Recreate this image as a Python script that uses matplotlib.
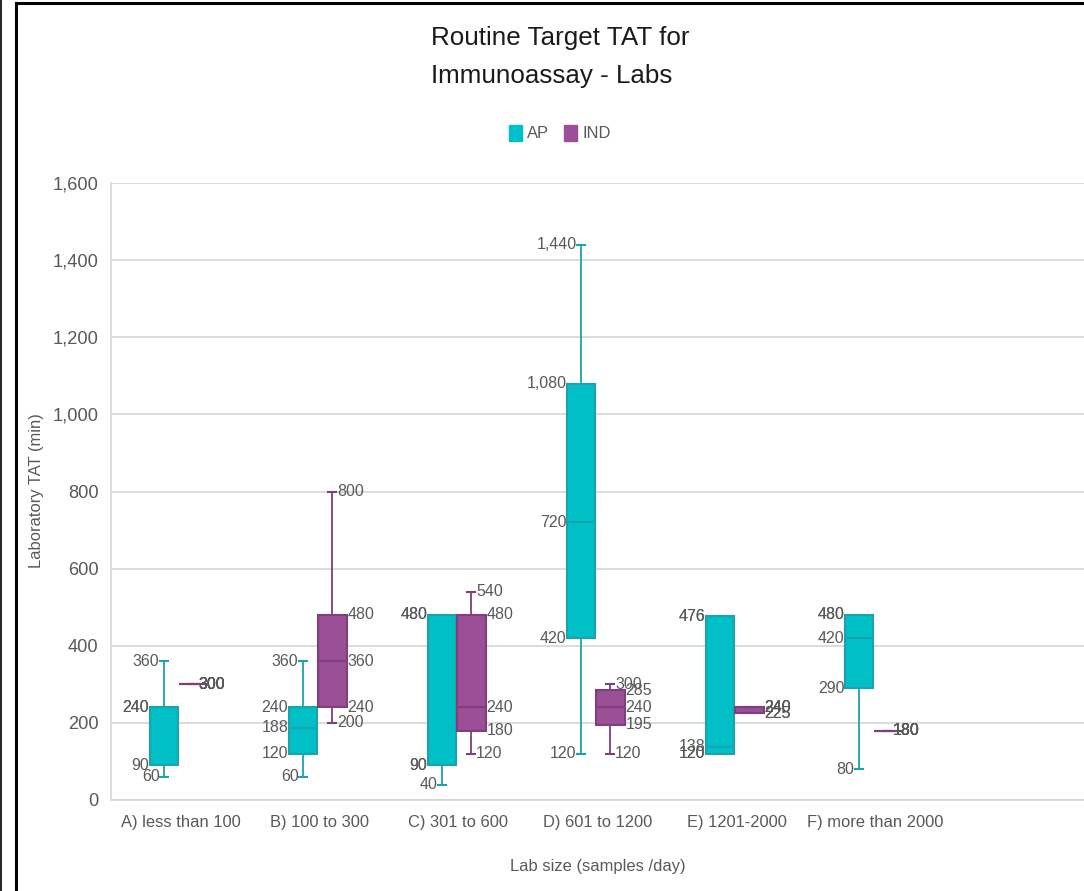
import matplotlib
matplotlib.use('Agg')
import matplotlib.pyplot as plt
from matplotlib import font_manager as fm
from matplotlib.patches import Patch
from matplotlib.lines import Line2D
from matplotlib.ticker import FuncFormatter

# ---------------- data ----------------
categories = ["A) less than 100", "B) 100 to 300", "C) 301 to 600",
              "D) 601 to 1200", "E) 1201-2000", "F) more than 2000"]
series_names = ["AP", "IND"]

ap_min = [60, 60, 40, 120, 120, 80]
ap_q1 = [90, 120, 90, 420, 120, 290]
ap_med = [240, 188, 90, 720, 138, 420]
ap_q3 = [240, 240, 480, 1080, 476, 480]
ap_max = [360, 360, 480, 1440, 476, 480]

ind_min = [300, 200, 120, 120, 225, 180]
ind_q1 = [300, 240, 180, 195, 225, 180]
ind_med = [300, 360, 240, 240, 240, 180]
ind_q3 = [300, 480, 480, 285, 240, 180]
ind_max = [300, 800, 540, 300, 240, 180]

y_ticks = [0, 200, 400, 600, 800, 1000, 1200, 1400, 1600]

# ---------------- style ----------------
names = {f.name for f in fm.fontManager.ttflist}
FONT = 'Liberation Sans Narrow' if 'Liberation Sans Narrow' in names else 'Liberation Sans'
NARROW = FONT == 'Liberation Sans Narrow'
k = 1.0 if NARROW else 0.85
kl = 1.0 if NARROW else 0.89
plt.rcParams['font.family'] = [FONT, 'DejaVu Sans']

TXT = '#595959'
AP_FILL, AP_EDGE = '#00BFC7', '#1AA3AA'
IND_FILL, IND_EDGE = '#9B4F96', '#7E3F7A'
GRID = '#D9D9D9'

W, H = 1084, 891
fig = plt.figure(figsize=(W / 100, H / 100), dpi=100)
fig.patch.set_facecolor('white')

ax = fig.add_axes([111 / W, 1 - 800 / H, (W - 111) / W, (800 - 183) / H])
ax.set_xlim(-0.5, 6.5)
ax.set_ylim(0, 1600)

BOXW = 0.205
CAPW = 0.058
ap_pos = [i - 0.117 for i in range(len(categories))]
ind_pos = [i + 0.093 for i in range(len(categories))]


def stats(mins, q1s, meds, q3s, maxs):
    return [dict(whislo=a, q1=b, med=c, q3=d, whishi=e, fliers=[])
            for a, b, c, d, e in zip(mins, q1s, meds, q3s, maxs)]


def draw(st, pos, fill, edge):
    ax.bxp(st, positions=pos, widths=BOXW, capwidths=CAPW, patch_artist=True,
           showfliers=False,
           boxprops=dict(facecolor=fill, edgecolor=edge, linewidth=1.5),
           medianprops=dict(color=edge, linewidth=1.5),
           whiskerprops=dict(color=edge, linewidth=1.3),
           capprops=dict(color=edge, linewidth=1.5),
           manage_ticks=False, zorder=3)


draw(stats(ap_min, ap_q1, ap_med, ap_q3, ap_max), ap_pos, AP_FILL, AP_EDGE)
draw(stats(ind_min, ind_q1, ind_med, ind_q3, ind_max), ind_pos, IND_FILL, IND_EDGE)

LBL = 13 * kl


def fmt(v):
    return f"{v:,.0f}"


def labels(pos, mins, q1s, meds, q3s, maxs, side):
    sgn = -1 if side == 'left' else 1
    ha = 'right' if side == 'left' else 'left'
    for p, a, b, c, d, e in zip(pos, mins, q1s, meds, q3s, maxs):
        flat = (b == d)
        box_vals = (b, c, d)
        for v in (a, b, c, d, e):
            at_box = (v in box_vals) and not flat
            half = BOXW / 2 if at_box else CAPW / 2
            ax.annotate(fmt(v), xy=(p + sgn * half, v), xytext=(sgn * 0.5, 0),
                        textcoords='offset points', ha=ha, va='center',
                        fontsize=LBL, color=TXT, zorder=4)


labels(ap_pos, ap_min, ap_q1, ap_med, ap_q3, ap_max, 'left')
labels(ind_pos, ind_min, ind_q1, ind_med, ind_q3, ind_max, 'right')

# axes styling
ax.set_yticks(y_ticks)
ax.yaxis.set_major_formatter(FuncFormatter(lambda v, _: f"{v:,.0f}"))
ax.set_xticks(range(len(categories)))
ax.set_xticklabels(categories)
ax.tick_params(axis='y', length=0, pad=9, labelsize=15.5 * k, labelcolor=TXT)
ax.tick_params(axis='x', length=0, pad=11, labelsize=14 * k, labelcolor=TXT)
ax.grid(axis='y', color=GRID, linewidth=1.3, zorder=0)
ax.set_axisbelow(True)
for s in ('top', 'right'):
    ax.spines[s].set_visible(False)
for s in ('left', 'bottom'):
    ax.spines[s].set_color(GRID)
    ax.spines[s].set_linewidth(1.3)

fig.text(37 / W, 1 - 491 / H, "Laboratory TAT (min)", rotation=90, ha='center',
         va='center', fontsize=14 * k, color=TXT)
fig.text(598 / W, 1 - 866 / H, "Lab size (samples /day)", ha='center',
         va='center', fontsize=14 * k, color=TXT)

# title
fig.text(431 / W, 1 - 38 / H, "Routine Target TAT for", ha='left', va='center',
         fontsize=22 * k, color='#1a1a1a')
fig.text(431 / W, 1 - 76 / H, "Immunoassay - Labs", ha='left', va='center',
         fontsize=22 * k, color='#1a1a1a')

# legend
handles = [Patch(facecolor=AP_FILL, edgecolor=AP_FILL),
           Patch(facecolor=IND_FILL, edgecolor=IND_FILL)]
fig.legend(handles, series_names, loc='center', bbox_to_anchor=(560 / W, 1 - 133 / H),
           ncol=2, frameon=False, fontsize=14 * k, handlelength=0.75,
           handleheight=1.15, handletextpad=0.35, columnspacing=0.9,
           labelcolor=TXT)

# outer frame lines
fig.add_artist(Line2D([16 / W, 16 / W], [0, 1 - 3 / H], color='black', linewidth=2.2,
                      transform=fig.transFigure))
fig.add_artist(Line2D([16 / W, 1], [1 - 3 / H, 1 - 3 / H], color='black', linewidth=2.2,
                      transform=fig.transFigure))
fig.add_artist(Line2D([0.6 / W, 0.6 / W], [0, 1], color='black', linewidth=1.2,
                      transform=fig.transFigure))

fig.savefig('out.png', dpi=100, facecolor='white')
